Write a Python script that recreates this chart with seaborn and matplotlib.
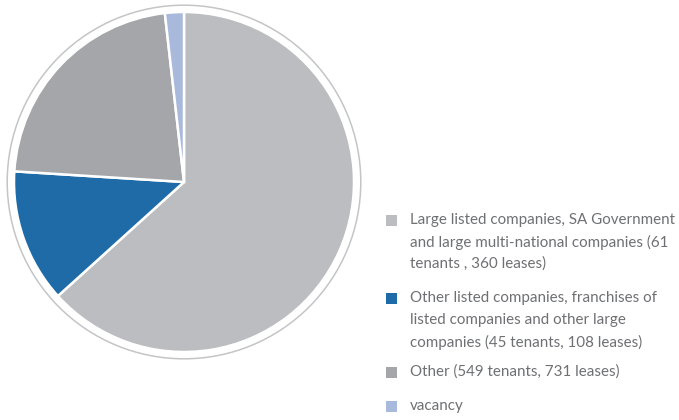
import matplotlib
matplotlib.use("Agg")
import matplotlib.pyplot as plt
from matplotlib.patches import Circle, Rectangle
import seaborn as sns

# Tenant profile by share of gross lettable area
categories = [
    ["Large listed companies, SA Government",
     "and large multi-national companies (61",
     "tenants , 360 leases)"],
    ["Other listed companies, franchises of",
     "listed companies and other large",
     "companies (45 tenants, 108 leases)"],
    ["Other (549 tenants, 731 leases)"],
    ["vacancy"],
]
shares = [63.3, 12.7, 22.2, 1.8]
colors = ["#bcbdc0", "#1f6ba7", "#a5a6a9", "#a8b9db"]

sns.set_theme(style="white")
plt.rcParams["font.family"] = ["Lato", "DejaVu Sans"]

W, H = 679, 420
fig = plt.figure(figsize=(W / 100, H / 100), dpi=100)
fig.patch.set_facecolor("white")

# pie centred at (184, 182) px with a 170 px radius
cx, cy, r = 184, 182, 170
half = 1.1 * r
ax = fig.add_axes([(cx - half) / W, (H - cy - half) / H, 2 * half / W, 2 * half / H])
ax.pie(shares, colors=colors, startangle=90, counterclock=False, radius=1.0,
       wedgeprops=dict(edgecolor="white", linewidth=1.8))
ax.add_patch(Circle((0, 0), 1.04, fill=False, edgecolor="#c4c5c7", linewidth=1.1))
ax.set_xlim(-1.1, 1.1)
ax.set_ylim(-1.1, 1.1)
ax.set_aspect("equal")
ax.axis("off")

# legend: square swatch aligned with the first line of each label
first_line_y = [220, 298, 372, 406]
line_step = 22
text_color = "#6f7073"
for lines, col, y0 in zip(categories, colors, first_line_y):
    fig.patches.append(Rectangle(((386) / W, (H - y0 - 5.5) / H), 11 / W, 11 / H,
                                 transform=fig.transFigure, facecolor=col,
                                 edgecolor="none"))
    for i, line in enumerate(lines):
        fig.text(410 / W, (H - y0 - i * line_step) / H, line, fontsize=10.9,
                 color=text_color, va="center", ha="left")

fig.savefig("out.png", dpi=100, facecolor="white")
